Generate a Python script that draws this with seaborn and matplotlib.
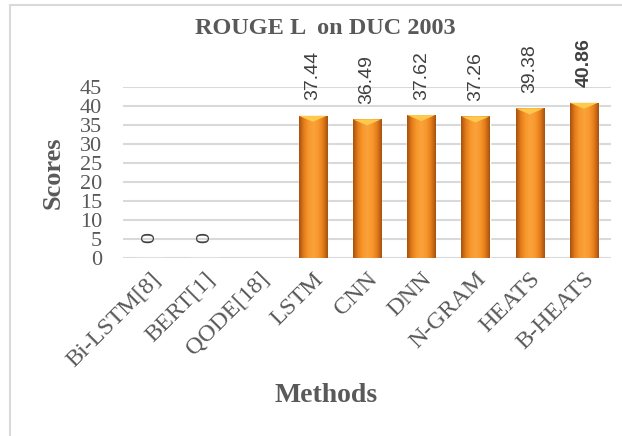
import numpy as np
import pandas as pd
import matplotlib
matplotlib.use("Agg")
import matplotlib.pyplot as plt
from matplotlib.colors import LinearSegmentedColormap
from matplotlib.patches import Rectangle
from matplotlib.transforms import ScaledTranslation
import seaborn as sns

methods = ["Bi-LSTM[8]", "BERT[1]", "QODE[18]", "LSTM", "CNN", "DNN", "N-GRAM", "HEATS", "B-HEATS"]
scores = [0, 0, np.nan, 37.44, 36.49, 37.62, 37.26, 39.38, 40.86]
yticks = list(range(0, 50, 5))

df = pd.DataFrame({"Method": methods, "Score": scores})

sns.set_theme(style="white")
plt.rcParams["font.family"] = ["Liberation Serif", "DejaVu Serif"]
gray = "#595959"

fig = plt.figure(figsize=(6.22, 4.36), dpi=100)
ax = fig.add_axes([123 / 622, 1 - 258 / 436, (611 - 123) / 622, (258 - 87) / 436])

# light frame around the chart
fig.patches.append(Rectangle((10 / 622, -0.1), 1.2, 0.1 + (436 - 5) / 436,
                             transform=fig.transFigure, fill=False,
                             edgecolor="#d9d9d9", linewidth=1.5))

sns.barplot(data=df, x="Method", y="Score", color="#F39A2E", width=0.52,
            saturation=1, ax=ax, zorder=3)

# gradient shading on each bar
cmap = LinearSegmentedColormap.from_list(
    "bar", ["#A8520E", "#E47E1C", "#F8982C", "#FAA23C", "#F8982C", "#E47E1C", "#A8520E"])
grad = np.linspace(0, 1, 64).reshape(1, -1)
for p in ax.patches:
    h = p.get_height()
    if not np.isfinite(h) or h <= 0:
        continue
    x0, w = p.get_x(), p.get_width()
    im = ax.imshow(grad, cmap=cmap, aspect="auto", extent=(x0, x0 + w, 0, h), zorder=4)
    im.set_clip_path(p)
    # top bevel
    ax.fill([x0, x0 + w, x0 + w / 2], [h, h, h - 1.6], color="#FFC94D", zorder=5, lw=0)
ax.set_xlim(-0.5, len(methods) - 0.5)

ax.set_ylim(0, 45)
ax.set_yticks(yticks)
ax.yaxis.grid(True, color="#d9d9d9", linewidth=1.5, zorder=0)
ax.set_axisbelow(True)
for s in ax.spines.values():
    s.set_visible(False)
ax.tick_params(axis="y", length=0, colors=gray, labelsize=16, pad=15)
ax.tick_params(axis="x", length=0, colors=gray, labelsize=17.5, pad=4)
shift = ScaledTranslation(0 / 100, -5 / 100, fig.dpi_scale_trans)
for lab in ax.get_xticklabels():
    lab.set_rotation(45)
    lab.set_ha("right")
    lab.set_rotation_mode("anchor")
    lab.set_transform(lab.get_transform() + shift)

# value labels
for i, v in enumerate(scores):
    if not np.isfinite(v):
        continue
    ax.annotate(f"{v:g}" if v == 0 else f"{v:.2f}", (i, v), xytext=(0, 11),
                textcoords="offset points", ha="center", va="bottom", rotation=90,
                fontsize=14, color="#404040", family="Liberation Sans",
                fontweight="bold" if i == len(scores) - 1 else "normal",
                annotation_clip=False)

ax.set_xlabel("")
ax.set_ylabel("Scores", fontsize=19, fontweight="bold", color=gray)
ax.yaxis.set_label_coords(-0.119, 0.5)
fig.text(326 / 622, 1 - 395 / 436, "Methods", ha="center", va="center",
         fontsize=20, fontweight="bold", color=gray)
fig.text(325 / 622, 1 - 28 / 436, "ROUGE L  on DUC 2003", ha="center", va="center",
         fontsize=17.5, fontweight="bold", color=gray)

fig.savefig("out.png", dpi=100)
